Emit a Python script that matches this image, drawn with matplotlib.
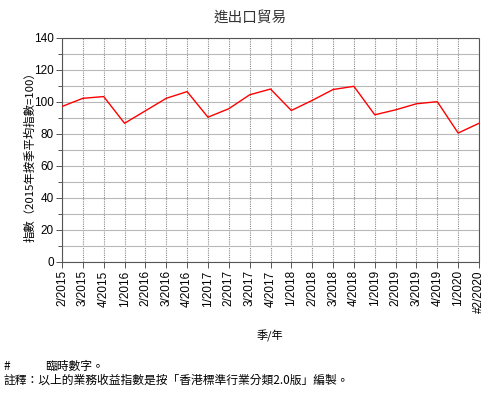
import matplotlib
matplotlib.use("Agg")
import matplotlib.pyplot as plt
from matplotlib.ticker import MultipleLocator

quarters = ["2/2015", "3/2015", "4/2015", "1/2016", "2/2016", "3/2016", "4/2016",
            "1/2017", "2/2017", "3/2017", "4/2017", "1/2018", "2/2018", "3/2018",
            "4/2018", "1/2019", "2/2019", "3/2019", "4/2019", "1/2020", "#2/2020"]
index_values = [97.2, 102.3, 103.4, 86.7, 94.5, 102.3, 106.5, 90.5, 95.8, 104.5,
                108.1, 94.7, 101.0, 107.8, 109.8, 92.0, 95.1, 98.9, 100.2, 80.6, 86.7]

title = "進出口貿易"
ylabel = "指數（2015年按季平均指數=100）"
xlabel = "季/年"
note1_mark = "#"
note1 = "臨時數字。"
note2 = "註釋：以上的業務收益指數是按「香港標準行業分類2.0版」編製。"

cjk = ["Noto Sans CJK TC", "DejaVu Sans"]
num_font = ["Liberation Sans", "DejaVu Sans"]

fig = plt.figure(figsize=(5, 4), dpi=100)
ax = fig.add_axes([0.124, 0.345, 0.834, 0.56])

x = list(range(len(quarters)))
ax.plot(x, index_values, color="#ff0000", linewidth=1.0, zorder=3)

ax.set_xlim(0, len(quarters) - 1)
ax.set_ylim(0, 140)
ax.yaxis.set_major_locator(MultipleLocator(20))
ax.yaxis.set_minor_locator(MultipleLocator(10))
ax.set_xticks(x)
ax.set_xticklabels(quarters, rotation=90, family=num_font, fontsize=8.5)
for lab in ax.get_yticklabels():
    lab.set_family(num_font)
    lab.set_fontsize(8.5)

ax.grid(which="both", axis="y", color="#b8b8b8", linestyle="-", linewidth=0.8)
ax.grid(which="major", axis="x", color="#8a8a8a", linestyle=(0, (1, 1)), linewidth=0.8)
ax.tick_params(axis="both", which="major", direction="out", length=4, width=0.7,
               color="#555555", pad=2)
ax.tick_params(axis="y", which="minor", direction="out", length=3, width=0.7,
               color="#555555")
for s in ax.spines.values():
    s.set_linestyle((0, (1, 1)))
    s.set_color("#555555")
    s.set_linewidth(0.8)

fig.text(0.5, 0.955, title, family=cjk, fontsize=10.5, color="#333333",
         ha="center", va="center")
fig.text(0.06, 0.615, ylabel, family=cjk, fontsize=8.2, rotation=90,
         ha="center", va="center")
fig.text(0.54, 0.16, xlabel, family=cjk, fontsize=8, ha="center", va="center")
fig.text(0.008, 0.083, note1_mark, family=cjk, fontsize=8.5, ha="left", va="center")
fig.text(0.09, 0.083, note1, family=cjk, fontsize=8.5, ha="left", va="center")
fig.text(0.008, 0.05, note2, family=cjk, fontsize=8.5, ha="left", va="center")

fig.savefig("out.png", dpi=100)
